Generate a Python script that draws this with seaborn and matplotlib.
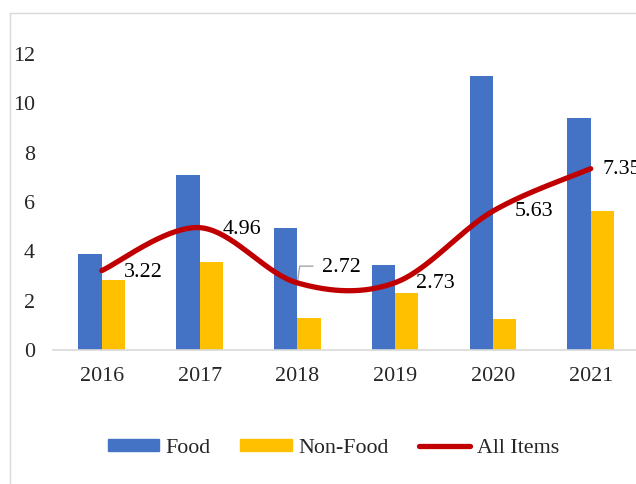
import numpy as np
import pandas as pd
import matplotlib
matplotlib.use("Agg")
import matplotlib.pyplot as plt
import seaborn as sns
from matplotlib.patches import Patch
from matplotlib.lines import Line2D

years = ["2016", "2017", "2018", "2019", "2020", "2021"]
food = [3.88, 7.09, 4.95, 3.45, 11.12, 9.39]
non_food = [2.84, 3.57, 1.30, 2.30, 1.26, 5.65]
all_items = [3.22, 4.96, 2.72, 2.73, 5.63, 7.35]
series_names = ["Food", "Non-Food", "All Items"]
colors = {"Food": "#4472C4", "Non-Food": "#FFC000", "All Items": "#C00000"}

FS = 15.8

sns.set_style("white")
plt.rcParams["font.family"] = ["Liberation Serif", "DejaVu Serif"]

fig = plt.figure(figsize=(6.36, 4.84), dpi=100)
ax = fig.add_axes([52.9 / 636, (484 - 350) / 484, 586.7 / 636, 296 / 484])

df = pd.DataFrame({
    "year": years * 2,
    "value": food + non_food,
    "series": ["Food"] * len(years) + ["Non-Food"] * len(years),
})
sns.barplot(data=df, x="year", y="value", hue="series", order=years,
            hue_order=["Food", "Non-Food"], palette=colors, width=0.477,
            gap=0, saturation=1, legend=False, ax=ax, linewidth=0)

# Excel-style smoothed line (Catmull-Rom Bezier through the data points)
pts = np.array([[i, v] for i, v in enumerate(all_items)], dtype=float)
ext = np.vstack([pts[0], pts, pts[-1]])
curve = []
t = np.linspace(0, 1, 40)
for i in range(len(pts) - 1):
    p0, p3 = ext[i + 1], ext[i + 2]
    p1 = p0 + (ext[i + 2] - ext[i]) / 6
    p2 = p3 - (ext[i + 3] - ext[i + 1]) / 6
    seg = ((1 - t) ** 3)[:, None] * p0 + (3 * (1 - t) ** 2 * t)[:, None] * p1 \
        + (3 * (1 - t) * t ** 2)[:, None] * p2 + (t ** 3)[:, None] * p3
    curve.append(seg)
curve = np.vstack(curve)
ax.plot(curve[:, 0], curve[:, 1], color=colors["All Items"], lw=3.8,
        solid_capstyle="round", zorder=5)

# data labels
label_pos = [(0.228, 3.16), (1.231, 4.90), (2.256, 3.36), (3.218, 2.70),
             (4.222, 5.61), (5.123, 7.30)]
for v, (lx, ly) in zip(all_items, label_pos):
    ax.text(lx, ly, f"{v:.2f}", fontsize=FS, ha="left", va="center",
            color="#000000", zorder=6, clip_on=False)
# leader line for 2.72
ax.plot([2, 2.024, 2.16], [2.72, 3.40, 3.40], color="#A6A6A6", lw=1, zorder=4)

ax.set_xlim(-0.5, 5.5)
ax.set_ylim(0, 12)
ax.set_yticks(range(0, 13, 2))
ax.set_xlabel("")
ax.set_ylabel("")
ax.tick_params(axis="y", length=0, pad=13, labelsize=FS)
ax.tick_params(axis="x", length=0, pad=12, labelsize=FS)
for s in ["left", "right", "top"]:
    ax.spines[s].set_visible(False)
ax.spines["bottom"].set_color("#D9D9D9")
ax.spines["bottom"].set_linewidth(1.2)

# chart frame
fig.add_artist(Line2D([9.5 / 636, 9.5 / 636], [0, 1 - 12.5 / 484],
                      transform=fig.transFigure, color="#D9D9D9", lw=1))
fig.add_artist(Line2D([9.5 / 636, 1], [1 - 12.5 / 484, 1 - 12.5 / 484],
                      transform=fig.transFigure, color="#D9D9D9", lw=1))

handles = [Patch(color=colors["Food"]), Patch(color=colors["Non-Food"]),
           Line2D([0], [0], color=colors["All Items"], lw=3.8, solid_capstyle="round")]
fig.legend(handles, series_names, loc="center", bbox_to_anchor=(0.524, 0.074),
           ncol=3, frameon=False, fontsize=FS, handlelength=2.35,
           handleheight=0.45, handletextpad=0.3, columnspacing=1.35)

fig.savefig("out.png", dpi=100)
